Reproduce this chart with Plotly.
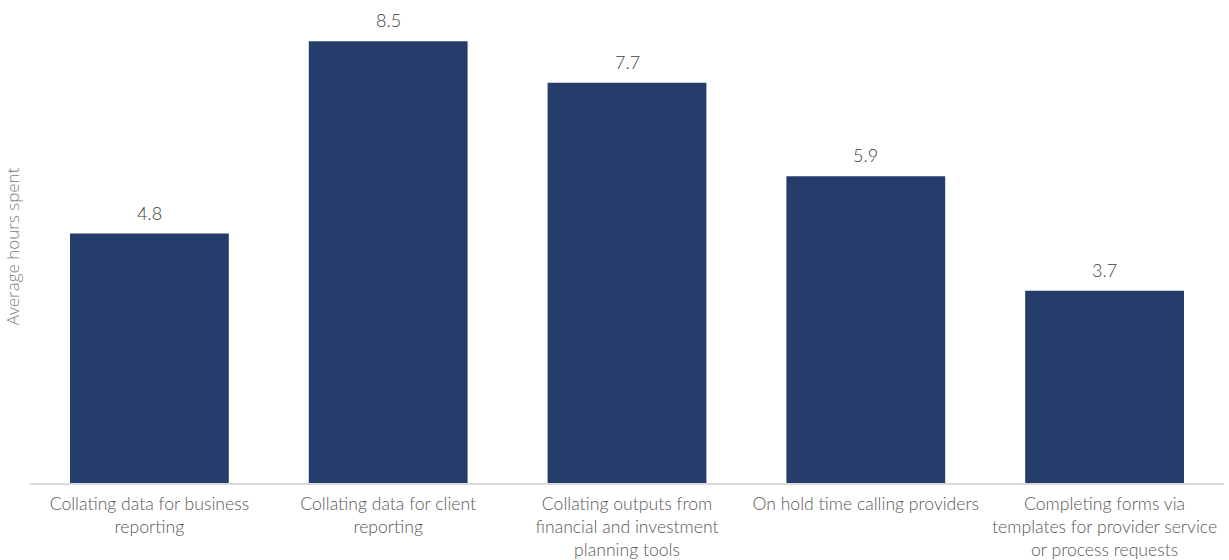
import plotly.graph_objects as go

categories = [
    "Collating data for business<br>reporting",
    "Collating data for client<br>reporting",
    "Collating outputs from<br>financial and investment<br>planning tools",
    "On hold time calling providers",
    "Completing forms via<br>templates for provider service<br>or process requests",
]
values = [4.8, 8.5, 7.7, 5.9, 3.7]
value_labels = ["4.8", "8.5", "7.7", "5.9", "3.7"]

fig = go.Figure(go.Bar(
    x=categories,
    y=values,
    marker=dict(color="#253D6B", line=dict(width=0)),
    cliponaxis=False,
))

for c, v, t in zip(categories, values, value_labels):
    fig.add_annotation(
        x=c, y=v, text=t, showarrow=False, yanchor="bottom", yshift=8,
        font=dict(family="Lato", size=18, color="#404040", weight=300),
    )

fig.update_layout(
    width=1229, height=560,
    margin=dict(l=30, r=5, t=10, b=77),
    paper_bgcolor="white", plot_bgcolor="white",
    bargap=0.335,
    showlegend=False,
    font=dict(family="Lato", color="#595959"),
)
fig.update_xaxes(
    showline=True, linecolor="#d9d9d9", linewidth=2,
    tickfont=dict(family="Lato", size=17.6, color="#595959", weight=300),
    ticks="", showgrid=False, ticklabelstandoff=4, automargin=False,
)
fig.update_yaxes(
    range=[0, 9.1], showticklabels=False, showgrid=False, zeroline=False,
    automargin=False,
    title=dict(text="Average hours spent", standoff=5,
               font=dict(family="Open Sans", size=17, color="#808080", weight=300)),
)

fig.write_html("out.html")
